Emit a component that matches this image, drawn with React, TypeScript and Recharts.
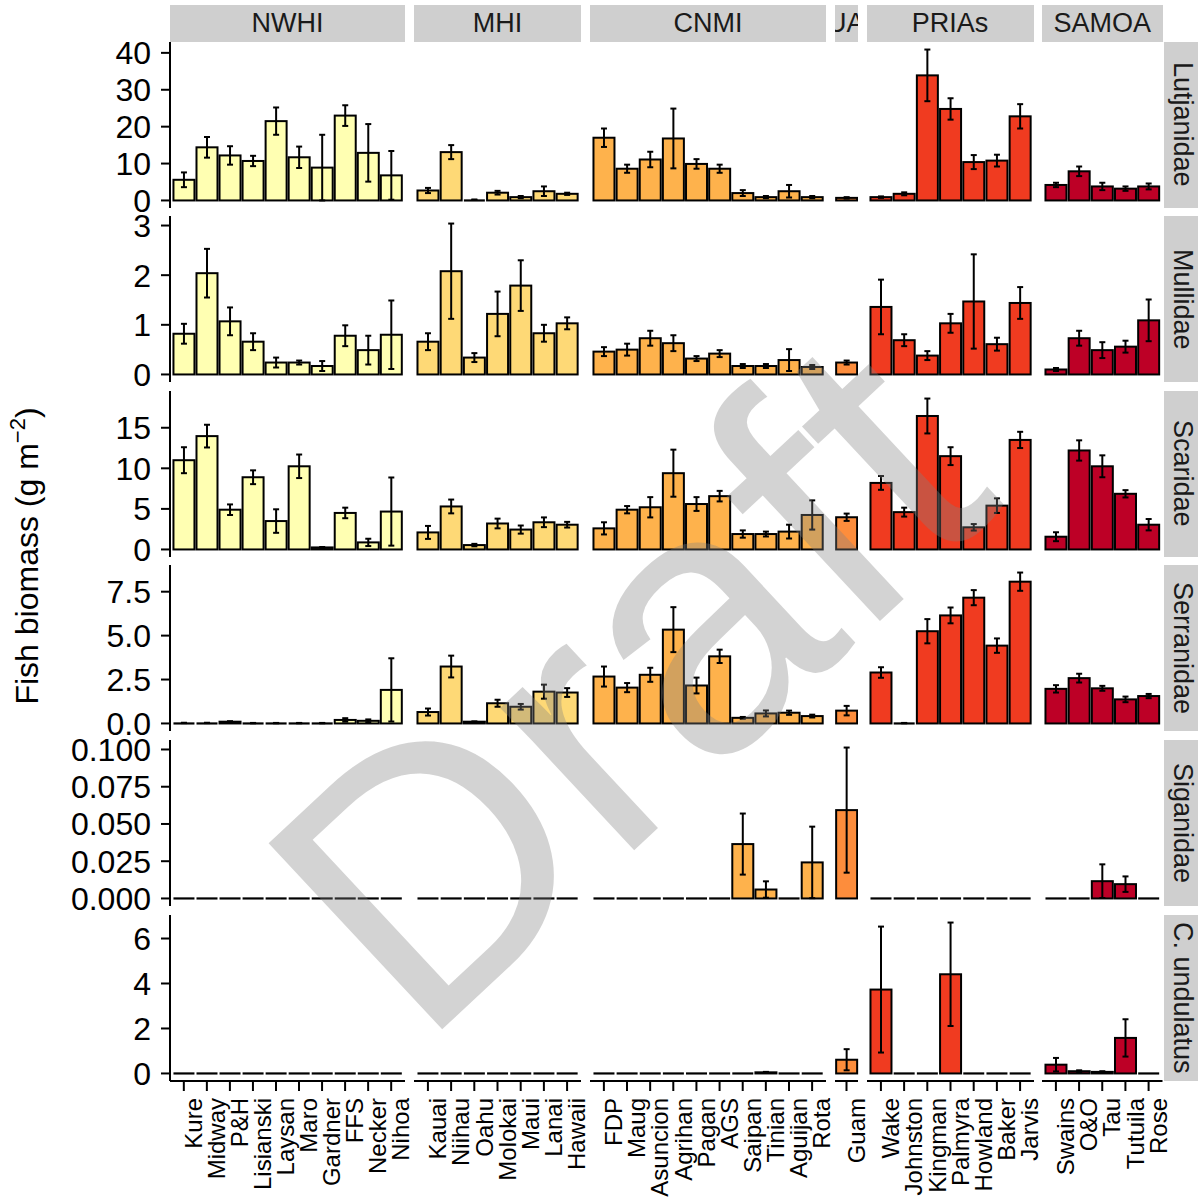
import React from 'react';
import { BarChart, Bar, XAxis, YAxis, ErrorBar } from 'recharts';

const FONT = '"Liberation Sans", Arial, Helvetica, sans-serif';

// facet columns (regions) and their islands, in plotting order
const regionNames = ['NWHI', 'MHI', 'CNMI', 'GUAM', 'PRIAs', 'SAMOA'];
const regionFills = ['#FFFFB2', '#FED976', '#FEB24C', '#FD8D3C', '#F03B20', '#BD0026'];

const nwhiIslands = ['Kure', 'Midway', 'P&H', 'Lisianski', 'Laysan', 'Maro', 'Gardner', 'FFS', 'Necker', 'Nihoa'];
const mhiIslands = ['Kauai', 'Niihau', 'Oahu', 'Molokai', 'Maui', 'Lanai', 'Hawaii'];
const cnmiIslands = ['FDP', 'Maug', 'Asuncion', 'Agrihan', 'Pagan', 'AGS', 'Saipan', 'Tinian', 'Aguijan', 'Rota'];
const guamIslands = ['Guam'];
const priaIslands = ['Wake', 'Johnston', 'Kingman', 'Palmyra', 'Howland', 'Baker', 'Jarvis'];
const samoaIslands = ['Swains', 'O&O', 'Tau', 'Tutuila', 'Rose'];
const regionIslands = [nwhiIslands, mhiIslands, cnmiIslands, guamIslands, priaIslands, samoaIslands];

// facet rows (families)
const families = ['Lutjanidae', 'Mullidae', 'Scaridae', 'Serranidae', 'Siganidae', 'C. undulatus'];

// mean biomass and standard error, 40 islands each (NWHI | MHI | CNMI | Guam | PRIAs | SAMOA)
const lutjanidaeMean = [5.6, 14.4, 12.2, 10.7, 21.5, 11.7, 8.9, 23.0, 12.9, 6.8, 2.7, 13.1, 0.2, 2.1, 0.9, 2.5, 1.8, 17.0, 8.6, 11.1, 16.8, 9.9, 8.6, 2.0, 0.9, 2.5, 0.9, 0.7, 0.9, 1.8, 33.9, 24.8, 10.4, 10.8, 22.8, 4.2, 7.9, 3.8, 3.2, 3.8];
const lutjanidaeSe = [2.0, 2.8, 2.5, 1.4, 3.7, 2.9, 8.9, 2.8, 7.8, 6.6, 0.7, 1.9, 0.05, 0.5, 0.3, 1.3, 0.3, 2.5, 1.1, 2.1, 8.1, 1.3, 1.1, 0.8, 0.3, 1.7, 0.3, 0.2, 0.2, 0.4, 7.0, 2.9, 1.9, 1.6, 3.3, 0.6, 1.3, 1.0, 0.6, 0.8];

const mullidaeMean = [0.82, 2.04, 1.07, 0.66, 0.24, 0.24, 0.17, 0.78, 0.49, 0.8, 0.66, 2.08, 0.34, 1.22, 1.79, 0.83, 1.03, 0.46, 0.5, 0.73, 0.63, 0.32, 0.42, 0.17, 0.17, 0.29, 0.15, 0.24, 1.36, 0.69, 0.38, 1.03, 1.47, 0.61, 1.44, 0.1, 0.73, 0.49, 0.56, 1.09];
const mullidaeSe = [0.2, 0.49, 0.28, 0.17, 0.1, 0.04, 0.1, 0.21, 0.29, 0.69, 0.17, 0.96, 0.09, 0.45, 0.51, 0.17, 0.12, 0.09, 0.12, 0.15, 0.16, 0.05, 0.07, 0.04, 0.04, 0.22, 0.04, 0.04, 0.55, 0.12, 0.09, 0.19, 0.95, 0.13, 0.32, 0.03, 0.15, 0.16, 0.12, 0.42];

const scaridaeMean = [11.0, 13.97, 4.9, 8.9, 3.5, 10.25, 0.25, 4.5, 0.87, 4.67, 2.1, 5.3, 0.54, 3.2, 2.45, 3.35, 3.05, 2.6, 4.9, 5.2, 9.4, 5.6, 6.57, 1.9, 1.9, 2.2, 4.25, 3.97, 8.2, 4.6, 16.45, 11.5, 2.73, 5.4, 13.5, 1.57, 12.2, 10.25, 6.86, 3.05];
const scaridaeSe = [1.6, 1.4, 0.65, 0.85, 1.45, 1.45, 0.05, 0.65, 0.45, 4.2, 0.8, 0.85, 0.15, 0.6, 0.5, 0.6, 0.35, 0.75, 0.45, 1.25, 2.9, 0.85, 0.65, 0.45, 0.3, 0.85, 1.8, 0.45, 0.85, 0.55, 2.15, 1.1, 0.4, 0.9, 1.0, 0.55, 1.25, 1.35, 0.45, 0.7];

const serranidaeMean = [0.03, 0.03, 0.1, 0.02, 0.02, 0.02, 0.02, 0.2, 0.15, 1.91, 0.65, 3.24, 0.1, 1.15, 0.95, 1.81, 1.76, 2.67, 2.04, 2.77, 5.34, 2.16, 3.82, 0.32, 0.57, 0.61, 0.42, 0.73, 2.9, 0.02, 5.25, 6.15, 7.16, 4.43, 8.07, 1.97, 2.58, 2.0, 1.37, 1.56];
const serranidaeSe = [0.01, 0.01, 0.03, 0.01, 0.01, 0.01, 0.01, 0.1, 0.08, 1.8, 0.2, 0.62, 0.02, 0.2, 0.16, 0.4, 0.25, 0.57, 0.26, 0.4, 1.28, 0.45, 0.38, 0.05, 0.17, 0.12, 0.08, 0.27, 0.3, 0.01, 0.69, 0.45, 0.43, 0.41, 0.52, 0.21, 0.25, 0.14, 0.16, 0.12];

const siganidaeMean = [0, 0, 0, 0, 0, 0, 0, 0, 0, 0, 0, 0, 0, 0, 0, 0, 0, 0, 0, 0, 0, 0, 0, 0.0365, 0.006, 0, 0.0242, 0.0593, 0, 0, 0, 0, 0, 0, 0, 0, 0, 0.0116, 0.0096, 0];
const siganidaeSe = [0, 0, 0, 0, 0, 0, 0, 0, 0, 0, 0, 0, 0, 0, 0, 0, 0, 0, 0, 0, 0, 0, 0, 0.0205, 0.0055, 0, 0.024, 0.042, 0, 0, 0, 0, 0, 0, 0, 0, 0, 0.0113, 0.0052, 0];

const cUndulatusMean = [0, 0, 0, 0, 0, 0, 0, 0, 0, 0, 0, 0, 0, 0, 0, 0, 0, 0, 0, 0, 0, 0, 0, 0, 0.05, 0, 0, 0.61, 3.73, 0, 0, 4.41, 0, 0, 0, 0.39, 0.1, 0.07, 1.58, 0];
const cUndulatusSe = [0, 0, 0, 0, 0, 0, 0, 0, 0, 0, 0, 0, 0, 0, 0, 0, 0, 0, 0, 0, 0, 0, 0, 0, 0.02, 0, 0, 0.47, 2.8, 0, 0, 2.3, 0, 0, 0, 0.3, 0.04, 0.03, 0.83, 0];

// y ticks per row
const lutjanidaeTicks = [0, 10, 20, 30, 40];
const mullidaeTicks = [0, 1, 2, 3];
const scaridaeTicks = [0, 5, 10, 15];
const serranidaeTicks = [0, 2.5, 5, 7.5];
const siganidaeTicks = [0, 0.025, 0.05, 0.075, 0.1];
const cUndulatusTicks = [0, 2, 4, 6];

const familyMeans = [lutjanidaeMean, mullidaeMean, scaridaeMean, serranidaeMean, siganidaeMean, cUndulatusMean];
const familySe = [lutjanidaeSe, mullidaeSe, scaridaeSe, serranidaeSe, siganidaeSe, cUndulatusSe];
const familyTicks = [lutjanidaeTicks, mullidaeTicks, scaridaeTicks, serranidaeTicks, siganidaeTicks, cUndulatusTicks];
const tickDecimals = [0, 0, 0, 1, 3, 0];

// layout
const COL_LEFT = [170, 414, 590, 835, 866.5, 1042];
const COL_WIDTH = [235, 167, 236, 23, 167, 120.5];
const ROW_TOP0 = 41.5;
const ROW_PITCH = 174.6;
const PANEL_H = 166;
const Y_AXIS_W = 110;
const X_AXIS_H = 125;
const EXT = 20; // room so edge tick labels are not clipped
const STRIP_RIGHT_X = 1164;

const rowTop = (r: number) => ROW_TOP0 + r * ROW_PITCH;

const regionStart = regionIslands.map((_, c) =>
  regionIslands.slice(0, c).reduce((s, a) => s + a.length, 0)
);

const rowDomain = (r: number): [number, number] => {
  const m = familyMeans[r];
  const s = familySe[r];
  const hi = Math.max(...m.map((v, i) => v + s[i]));
  const lo = Math.min(0, ...m.map((v, i) => v - s[i]));
  const pad = (hi - lo) * 0.05;
  return [lo - pad, hi + pad];
};

const BarShape = (props: any) => {
  const { x, y, width, height, fill } = props;
  if (!height || Math.abs(height) < 1) {
    const yy = y + (height || 0);
    return <line x1={x} x2={x + width} y1={yy} y2={yy} stroke="#000" strokeWidth={2.2} />;
  }
  return <rect x={x} y={y} width={width} height={height} fill={fill} stroke="#000" strokeWidth={2} />;
};

const IslandTick = (props: any) => {
  const { x, y, payload } = props;
  return (
    <text
      x={x}
      y={y}
      transform={`rotate(-90 ${x} ${y})`}
      textAnchor="end"
      dy="0.76em"
      fontSize={24}
      fontFamily={FONT}
      fill="#000"
    >
      {payload.value}
    </text>
  );
};

const Panel = ({ r, c }: { r: number; c: number }) => {
  const islands = regionIslands[c];
  const start = regionStart[c];
  const data = islands.map((island, i) => ({
    island,
    mean: familyMeans[r][start + i],
    se: familySe[r][start + i],
  }));
  const first = c === 0;
  const last = r === families.length - 1;
  const n = islands.length;
  const unit = n > 1 ? COL_WIDTH[c] / (n + 0.2) : COL_WIDTH[c];
  const pad = n > 1 ? unit * 0.1 : 0;
  const mTop = first ? EXT : 0;
  const mBottom = first && !last ? EXT : 0;
  const mRight = last ? 24 : 0;
  const w = COL_WIDTH[c] + (first ? Y_AXIS_W : 0) + mRight;
  const h = PANEL_H + (last ? X_AXIS_H : 0) + mTop + mBottom;
  const dec = tickDecimals[r];
  return (
    <div style={{ position: 'absolute', left: COL_LEFT[c] - (first ? Y_AXIS_W : 0), top: rowTop(r) - mTop }}>
      <BarChart
        width={w}
        height={h}
        data={data}
        margin={{ top: mTop, right: mRight, bottom: mBottom, left: 0 }}
        barCategoryGap="5%"
      >
        <XAxis
          dataKey="island"
          hide={!last}
          height={X_AXIS_H}
          padding={{ left: pad, right: pad }}
          interval={0}
          tickSize={10}
          tickMargin={7}
          axisLine={{ stroke: '#000', strokeWidth: 2 }}
          tickLine={{ stroke: '#000', strokeWidth: 2 }}
          tick={<IslandTick />}
        />
        <YAxis
          hide={!first}
          width={Y_AXIS_W}
          type="number"
          domain={rowDomain(r)}
          allowDataOverflow
          ticks={familyTicks[r]}
          interval={0}
          tickSize={9}
          tickMargin={10}
          tickFormatter={(v: number) => v.toFixed(dec)}
          axisLine={{ stroke: '#000', strokeWidth: 2 }}
          tickLine={{ stroke: '#000', strokeWidth: 2 }}
          tick={{ fontSize: 32, fill: '#000', fontFamily: FONT }}
        />
        <Bar dataKey="mean" fill={regionFills[c]} shape={BarShape} isAnimationActive={false}>
          <ErrorBar dataKey="se" width={3} stroke="#000" strokeWidth={2} />
        </Bar>
      </BarChart>
    </div>
  );
};

export default function App() {
  return (
    <div
      style={{
        position: 'absolute',
        left: 0,
        top: 0,
        width: 1198,
        height: 1202,
        background: '#fff',
        overflow: 'hidden',
        fontFamily: FONT,
      }}
    >
      {regionNames.map((name, c) => (
        <div
          key={name}
          style={{
            position: 'absolute',
            left: COL_LEFT[c],
            top: 5,
            width: COL_WIDTH[c],
            height: 36.5,
            background: '#CFCFCF',
            overflow: 'hidden',
            display: 'flex',
            alignItems: 'center',
            justifyContent: 'center',
            fontSize: 27,
            color: '#1a1a1a',
            whiteSpace: 'nowrap',
          }}
        >
          {name}
        </div>
      ))}
      {families.map((fam, r) => (
        <div
          key={fam}
          style={{
            position: 'absolute',
            left: STRIP_RIGHT_X,
            top: rowTop(r),
            width: 36,
            height: PANEL_H,
            background: '#CFCFCF',
            overflow: 'hidden',
            display: 'flex',
            alignItems: 'center',
            justifyContent: 'center',
            fontSize: 27,
            color: '#1a1a1a',
            whiteSpace: 'nowrap',
            writingMode: 'vertical-rl',
          }}
        >
          {fam}
        </div>
      ))}
      {families.map((fam, r) =>
        regionNames.map((reg, c) => <Panel key={fam + reg} r={r} c={c} />)
      )}
      <svg
        width={1198}
        height={1202}
        style={{ position: 'absolute', left: 0, top: 0, pointerEvents: 'none' }}
      >
        <text
          transform="translate(38 556) rotate(-90)"
          textAnchor="middle"
          fontSize={32}
          fontFamily={FONT}
          fill="#000"
        >
          Fish biomass (g m
          <tspan dy={-13} fontSize={22}>−2</tspan>
          <tspan dy={13}>)</tspan>
        </text>
        <text
          transform="translate(420 1050) rotate(-43)"
          fontSize={370}
          fontFamily={FONT}
          fill="#808080"
          fillOpacity={0.35}
        >
          Draft
        </text>
      </svg>
    </div>
  );
}
